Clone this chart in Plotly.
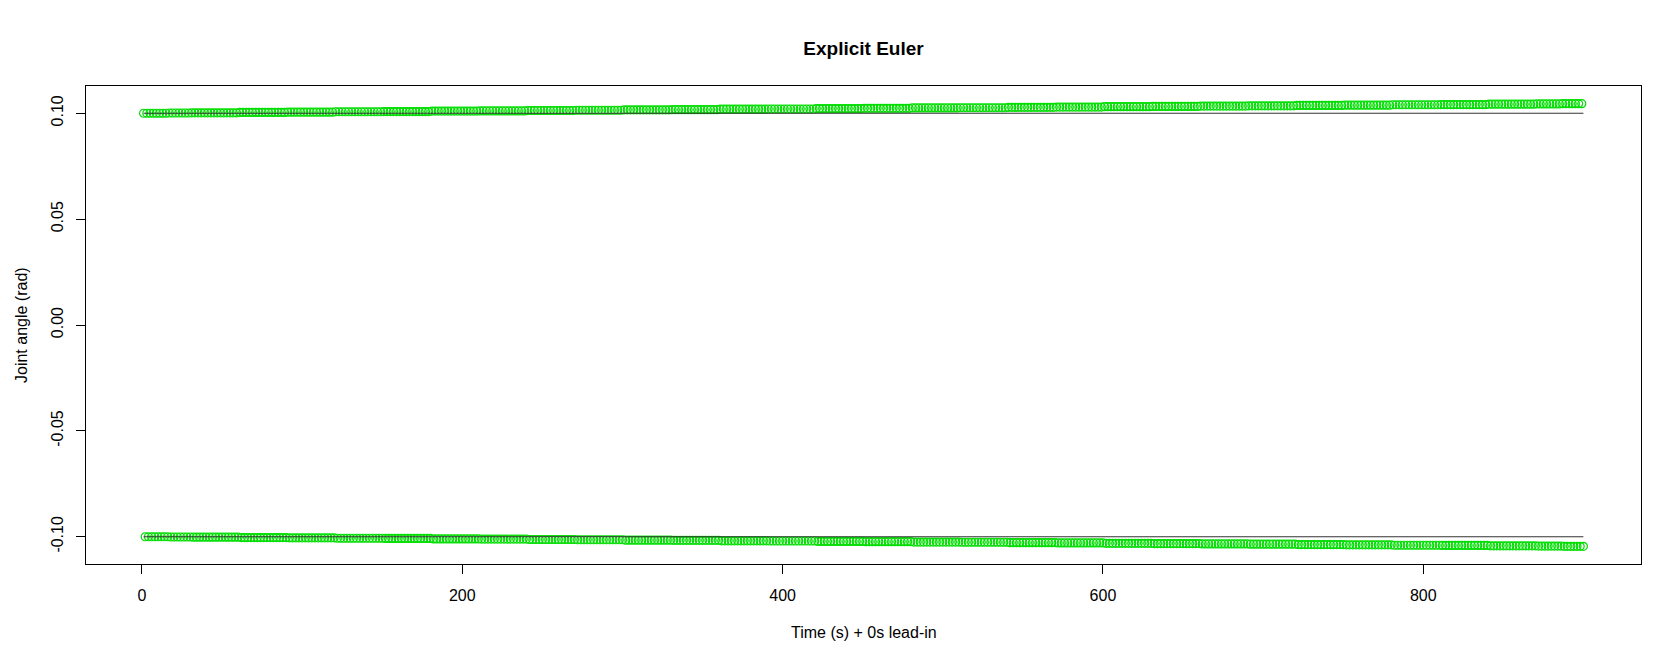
import plotly.graph_objects as go

# Data
# ==============================================================================
# Sampled joint angle (explicit Euler) - positive swings on odd seconds,
# negative swings on even seconds. Amplitude creeps up from 0.100 to ~0.1045.
# ==============================================================================
time_pos = list(range(1, 900, 2))
time_neg = list(range(2, 901, 2))

angle_pos = [
    0.1000, 0.1000, 0.1000, 0.1000, 0.1000, 0.1000, 0.1000, 0.1000, 0.1001, 0.1001, 0.1001, 0.1001, 0.1001, 0.1001, 0.1001,
    0.1002, 0.1002, 0.1002, 0.1002, 0.1002, 0.1002, 0.1002, 0.1002, 0.1002, 0.1002, 0.1002, 0.1002, 0.1002, 0.1002, 0.1002,
    0.1004, 0.1004, 0.1004, 0.1004, 0.1004, 0.1004, 0.1004, 0.1004, 0.1004, 0.1004, 0.1004, 0.1004, 0.1004, 0.1004, 0.1004,
    0.1005, 0.1005, 0.1005, 0.1005, 0.1005, 0.1005, 0.1005, 0.1005, 0.1005, 0.1005, 0.1005, 0.1005, 0.1005, 0.1005, 0.1005,
    0.1007, 0.1007, 0.1007, 0.1007, 0.1007, 0.1007, 0.1007, 0.1007, 0.1007, 0.1007, 0.1007, 0.1007, 0.1007, 0.1007, 0.1007,
    0.1008, 0.1008, 0.1008, 0.1008, 0.1008, 0.1008, 0.1008, 0.1008, 0.1008, 0.1008, 0.1008, 0.1008, 0.1008, 0.1008, 0.1008,
    0.1010, 0.1010, 0.1010, 0.1010, 0.1010, 0.1010, 0.1010, 0.1010, 0.1010, 0.1010, 0.1010, 0.1010, 0.1010, 0.1010, 0.1010,
    0.1011, 0.1011, 0.1011, 0.1011, 0.1011, 0.1011, 0.1011, 0.1011, 0.1011, 0.1011, 0.1011, 0.1011, 0.1011, 0.1011, 0.1011,
    0.1013, 0.1013, 0.1013, 0.1013, 0.1013, 0.1013, 0.1013, 0.1013, 0.1013, 0.1013, 0.1013, 0.1013, 0.1013, 0.1013, 0.1013,
    0.1014, 0.1014, 0.1014, 0.1014, 0.1014, 0.1014, 0.1014, 0.1014, 0.1014, 0.1014, 0.1014, 0.1014, 0.1014, 0.1014, 0.1014,
    0.1016, 0.1016, 0.1016, 0.1016, 0.1016, 0.1016, 0.1016, 0.1016, 0.1016, 0.1016, 0.1016, 0.1016, 0.1016, 0.1016, 0.1016,
    0.1017, 0.1017, 0.1017, 0.1017, 0.1017, 0.1017, 0.1017, 0.1017, 0.1017, 0.1017, 0.1017, 0.1017, 0.1017, 0.1017, 0.1017,
    0.1019, 0.1019, 0.1019, 0.1019, 0.1019, 0.1019, 0.1019, 0.1019, 0.1019, 0.1019, 0.1019, 0.1019, 0.1019, 0.1019, 0.1019,
    0.1020, 0.1020, 0.1020, 0.1020, 0.1020, 0.1020, 0.1020, 0.1020, 0.1020, 0.1020, 0.1020, 0.1020, 0.1020, 0.1020, 0.1020,
    0.1022, 0.1022, 0.1022, 0.1022, 0.1022, 0.1022, 0.1022, 0.1022, 0.1022, 0.1022, 0.1022, 0.1022, 0.1022, 0.1022, 0.1022,
    0.1023, 0.1023, 0.1023, 0.1023, 0.1023, 0.1023, 0.1023, 0.1023, 0.1023, 0.1023, 0.1023, 0.1023, 0.1023, 0.1023, 0.1023,
    0.1025, 0.1025, 0.1025, 0.1025, 0.1025, 0.1025, 0.1025, 0.1025, 0.1025, 0.1025, 0.1025, 0.1025, 0.1025, 0.1025, 0.1025,
    0.1026, 0.1026, 0.1026, 0.1026, 0.1026, 0.1026, 0.1026, 0.1026, 0.1026, 0.1026, 0.1026, 0.1026, 0.1026, 0.1026, 0.1026,
    0.1028, 0.1028, 0.1028, 0.1028, 0.1028, 0.1028, 0.1028, 0.1028, 0.1028, 0.1028, 0.1028, 0.1028, 0.1028, 0.1028, 0.1028,
    0.1029, 0.1029, 0.1029, 0.1029, 0.1029, 0.1029, 0.1029, 0.1029, 0.1029, 0.1029, 0.1029, 0.1029, 0.1029, 0.1029, 0.1029,
    0.1031, 0.1031, 0.1031, 0.1031, 0.1031, 0.1031, 0.1031, 0.1031, 0.1031, 0.1031, 0.1031, 0.1031, 0.1031, 0.1031, 0.1031,
    0.1032, 0.1032, 0.1032, 0.1032, 0.1032, 0.1032, 0.1032, 0.1032, 0.1032, 0.1032, 0.1032, 0.1032, 0.1032, 0.1032, 0.1032,
    0.1034, 0.1034, 0.1034, 0.1034, 0.1034, 0.1034, 0.1034, 0.1034, 0.1034, 0.1034, 0.1034, 0.1034, 0.1034, 0.1034, 0.1034,
    0.1035, 0.1035, 0.1035, 0.1035, 0.1035, 0.1035, 0.1035, 0.1035, 0.1035, 0.1035, 0.1035, 0.1035, 0.1035, 0.1035, 0.1035,
    0.1037, 0.1037, 0.1037, 0.1037, 0.1037, 0.1037, 0.1037, 0.1037, 0.1037, 0.1037, 0.1037, 0.1037, 0.1037, 0.1037, 0.1037,
    0.1038, 0.1038, 0.1038, 0.1038, 0.1038, 0.1038, 0.1038, 0.1038, 0.1038, 0.1038, 0.1038, 0.1038, 0.1038, 0.1038, 0.1038,
    0.1040, 0.1040, 0.1040, 0.1040, 0.1040, 0.1040, 0.1040, 0.1040, 0.1040, 0.1040, 0.1040, 0.1040, 0.1040, 0.1040, 0.1040,
    0.1041, 0.1041, 0.1041, 0.1041, 0.1041, 0.1041, 0.1041, 0.1041, 0.1041, 0.1041, 0.1041, 0.1041, 0.1041, 0.1041, 0.1041,
    0.1043, 0.1043, 0.1043, 0.1043, 0.1043, 0.1043, 0.1043, 0.1043, 0.1043, 0.1043, 0.1043, 0.1043, 0.1043, 0.1043, 0.1043,
    0.1044, 0.1044, 0.1044, 0.1044, 0.1044, 0.1044, 0.1044, 0.1044, 0.1045, 0.1045, 0.1045, 0.1045, 0.1045, 0.1045, 0.1045,
]

angle_neg = [
    -0.1000, -0.1000, -0.1000, -0.1000, -0.1000, -0.1000, -0.1000, -0.1000, -0.1001, -0.1001, -0.1001, -0.1001, -0.1001, -0.1001, -0.1001,
    -0.1002, -0.1002, -0.1002, -0.1002, -0.1002, -0.1002, -0.1002, -0.1002, -0.1002, -0.1002, -0.1002, -0.1002, -0.1002, -0.1002, -0.1002,
    -0.1004, -0.1004, -0.1004, -0.1004, -0.1004, -0.1004, -0.1004, -0.1004, -0.1004, -0.1004, -0.1004, -0.1004, -0.1004, -0.1004, -0.1004,
    -0.1005, -0.1005, -0.1005, -0.1005, -0.1005, -0.1005, -0.1005, -0.1005, -0.1005, -0.1005, -0.1005, -0.1005, -0.1005, -0.1005, -0.1005,
    -0.1007, -0.1007, -0.1007, -0.1007, -0.1007, -0.1007, -0.1007, -0.1007, -0.1007, -0.1007, -0.1007, -0.1007, -0.1007, -0.1007, -0.1007,
    -0.1008, -0.1008, -0.1008, -0.1008, -0.1008, -0.1008, -0.1008, -0.1008, -0.1008, -0.1008, -0.1008, -0.1008, -0.1008, -0.1008, -0.1008,
    -0.1010, -0.1010, -0.1010, -0.1010, -0.1010, -0.1010, -0.1010, -0.1010, -0.1010, -0.1010, -0.1010, -0.1010, -0.1010, -0.1010, -0.1010,
    -0.1011, -0.1011, -0.1011, -0.1011, -0.1011, -0.1011, -0.1011, -0.1011, -0.1011, -0.1011, -0.1011, -0.1011, -0.1011, -0.1011, -0.1011,
    -0.1013, -0.1013, -0.1013, -0.1013, -0.1013, -0.1013, -0.1013, -0.1013, -0.1013, -0.1013, -0.1013, -0.1013, -0.1013, -0.1013, -0.1013,
    -0.1014, -0.1014, -0.1014, -0.1014, -0.1014, -0.1014, -0.1014, -0.1014, -0.1014, -0.1014, -0.1014, -0.1014, -0.1014, -0.1014, -0.1014,
    -0.1016, -0.1016, -0.1016, -0.1016, -0.1016, -0.1016, -0.1016, -0.1016, -0.1016, -0.1016, -0.1016, -0.1016, -0.1016, -0.1016, -0.1016,
    -0.1017, -0.1017, -0.1017, -0.1017, -0.1017, -0.1017, -0.1017, -0.1017, -0.1017, -0.1017, -0.1017, -0.1017, -0.1017, -0.1017, -0.1017,
    -0.1019, -0.1019, -0.1019, -0.1019, -0.1019, -0.1019, -0.1019, -0.1019, -0.1019, -0.1019, -0.1019, -0.1019, -0.1019, -0.1019, -0.1019,
    -0.1020, -0.1020, -0.1020, -0.1020, -0.1020, -0.1020, -0.1020, -0.1020, -0.1020, -0.1020, -0.1020, -0.1020, -0.1020, -0.1020, -0.1020,
    -0.1022, -0.1022, -0.1022, -0.1022, -0.1022, -0.1022, -0.1022, -0.1022, -0.1022, -0.1022, -0.1022, -0.1022, -0.1022, -0.1022, -0.1022,
    -0.1023, -0.1023, -0.1023, -0.1023, -0.1023, -0.1023, -0.1023, -0.1023, -0.1023, -0.1023, -0.1023, -0.1023, -0.1023, -0.1023, -0.1023,
    -0.1025, -0.1025, -0.1025, -0.1025, -0.1025, -0.1025, -0.1025, -0.1025, -0.1025, -0.1025, -0.1025, -0.1025, -0.1025, -0.1025, -0.1025,
    -0.1026, -0.1026, -0.1026, -0.1026, -0.1026, -0.1026, -0.1026, -0.1026, -0.1026, -0.1026, -0.1026, -0.1026, -0.1026, -0.1026, -0.1026,
    -0.1028, -0.1028, -0.1028, -0.1028, -0.1028, -0.1028, -0.1028, -0.1028, -0.1028, -0.1028, -0.1028, -0.1028, -0.1028, -0.1028, -0.1028,
    -0.1029, -0.1029, -0.1029, -0.1029, -0.1029, -0.1029, -0.1029, -0.1029, -0.1029, -0.1029, -0.1029, -0.1029, -0.1029, -0.1029, -0.1029,
    -0.1031, -0.1031, -0.1031, -0.1031, -0.1031, -0.1031, -0.1031, -0.1031, -0.1031, -0.1031, -0.1031, -0.1031, -0.1031, -0.1031, -0.1031,
    -0.1032, -0.1032, -0.1032, -0.1032, -0.1032, -0.1032, -0.1032, -0.1032, -0.1032, -0.1032, -0.1032, -0.1032, -0.1032, -0.1032, -0.1032,
    -0.1034, -0.1034, -0.1034, -0.1034, -0.1034, -0.1034, -0.1034, -0.1034, -0.1034, -0.1034, -0.1034, -0.1034, -0.1034, -0.1034, -0.1034,
    -0.1035, -0.1035, -0.1035, -0.1035, -0.1035, -0.1035, -0.1035, -0.1035, -0.1035, -0.1035, -0.1035, -0.1035, -0.1035, -0.1035, -0.1035,
    -0.1037, -0.1037, -0.1037, -0.1037, -0.1037, -0.1037, -0.1037, -0.1037, -0.1037, -0.1037, -0.1037, -0.1037, -0.1037, -0.1037, -0.1037,
    -0.1038, -0.1038, -0.1038, -0.1038, -0.1038, -0.1038, -0.1038, -0.1038, -0.1038, -0.1038, -0.1038, -0.1038, -0.1038, -0.1038, -0.1038,
    -0.1040, -0.1040, -0.1040, -0.1040, -0.1040, -0.1040, -0.1040, -0.1040, -0.1040, -0.1040, -0.1040, -0.1040, -0.1040, -0.1040, -0.1040,
    -0.1041, -0.1041, -0.1041, -0.1041, -0.1041, -0.1041, -0.1041, -0.1041, -0.1041, -0.1041, -0.1041, -0.1041, -0.1041, -0.1041, -0.1041,
    -0.1043, -0.1043, -0.1043, -0.1043, -0.1043, -0.1043, -0.1043, -0.1043, -0.1043, -0.1043, -0.1043, -0.1043, -0.1043, -0.1043, -0.1043,
    -0.1044, -0.1044, -0.1044, -0.1044, -0.1044, -0.1044, -0.1044, -0.1044, -0.1045, -0.1045, -0.1045, -0.1045, -0.1045, -0.1045, -0.1045,
]

# reference amplitude (constant), drawn as two flat lines
ref_time = [1, 900]
ref_pos = [0.1, 0.1]
ref_neg = [-0.1, -0.1]

x_ticks = [0, 200, 400, 600, 800]
y_ticks = [-0.10, -0.05, 0.00, 0.05, 0.10]
y_tick_labels = ['-0.10', '-0.05', '0.00', '0.05', '0.10']

FONT = 'Liberation Sans, Arial, sans-serif'

# R-style axis range: data extent padded by 4% on each side
all_t = time_pos + time_neg
all_y = angle_pos + angle_neg
tpad = 0.04 * (max(all_t) - min(all_t))
ypad = 0.04 * (max(all_y) - min(all_y))
x_range = [min(all_t) - tpad, max(all_t) + tpad]
y_range = [min(all_y) - ypad, max(all_y) + ypad]

fig = go.Figure()

for t, y in [(time_pos, angle_pos), (time_neg, angle_neg)]:
    fig.add_trace(go.Scatter(
        x=t, y=y, mode='markers',
        marker=dict(symbol='circle-open', size=8, color='#00dd00', line=dict(width=1.2, color='#00dd00')),
        showlegend=False, hoverinfo='skip'
    ))

for y in [ref_pos, ref_neg]:
    fig.add_trace(go.Scatter(
        x=ref_time, y=y, mode='lines',
        line=dict(color='#333333', width=1.2),
        showlegend=False, hoverinfo='skip'
    ))

axis_common = dict(
    showgrid=False, zeroline=False,
    showline=True, mirror=True, linecolor='black', linewidth=1,
    ticks='outside', ticklen=9, tickcolor='black', tickwidth=1,
    tickfont=dict(family=FONT, size=16, color='black'),
)

fig.update_xaxes(range=x_range, tickvals=x_ticks, ticklabelstandoff=8, **axis_common)
fig.update_yaxes(range=y_range, tickvals=y_ticks, ticktext=y_tick_labels,
                 tickangle=-90, ticklabelstandoff=7, **axis_common)

fig.update_layout(
    width=1674, height=655,
    margin=dict(l=78, r=41, t=78, b=99),
    plot_bgcolor='white', paper_bgcolor='white',
    font=dict(family=FONT, size=16, color='black'),
    title=dict(text='<b>Explicit Euler</b>', x=0.5, xref='paper', xanchor='center',
               y=1 - 40 / 655, yref='container', yanchor='middle',
               font=dict(family=FONT, size=19, color='black')),
    annotations=[
        dict(text='Time (s) + 0s lead-in', xref='paper', yref='paper', x=0.5, y=0,
             yshift=-68, showarrow=False, xanchor='center', yanchor='middle',
             font=dict(family=FONT, size=16, color='black')),
        dict(text='Joint angle (rad)', xref='paper', yref='paper', x=0, y=0.5,
             xshift=-65, textangle=-90, showarrow=False, xanchor='center', yanchor='middle',
             font=dict(family=FONT, size=16, color='black')),
    ],
)

fig.write_html('out.html')
